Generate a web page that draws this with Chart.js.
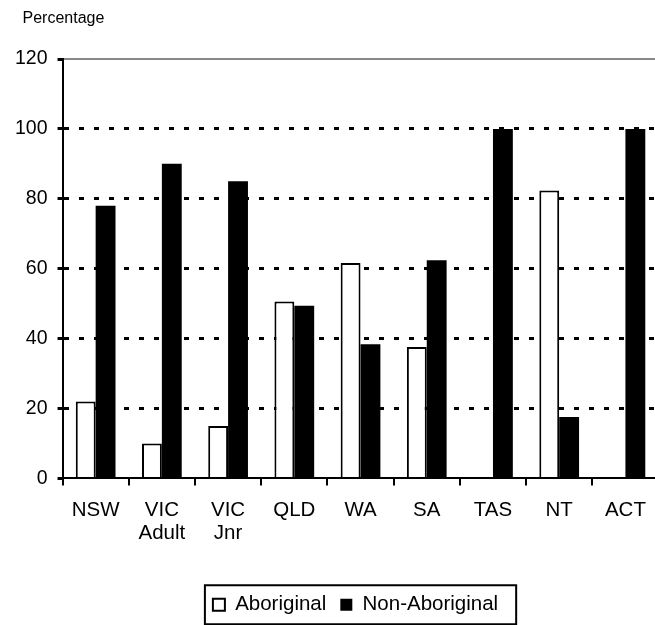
<!DOCTYPE html>
<html>
<head>
<meta charset="utf-8">
<script src="https://cdn.jsdelivr.net/npm/chart.js@4"></script>
<style>
    html, body { margin: 0; padding: 0; background: #fff; overflow: hidden; }
    #wrap { width: 655px; height: 625px; overflow: hidden; }
</style>
</head>
<body>
<div id="wrap"><canvas id="chart" width="660" height="625"></canvas></div>
<script>
// 各州分类
const states = [['NSW'], ['VIC', 'Adult'], ['VIC', 'Jnr'], ['QLD'], ['WA'], ['SA'], ['TAS'], ['NT'], ['ACT']];
// 百分比数据
const aboriginal = [22, 10, 15, 50.6, 61.6, 37.6, 0, 82.4, 0];
const nonAboriginal = [78, 90, 85, 49.4, 38.4, 62.4, 100, 17.6, 100];
// Y轴刻度
const yTicks = [0, 20, 40, 60, 80, 100, 120];

const FONT = 'Arial, "Liberation Sans", sans-serif';
// 图例外框左右留白
const BOX_PAD_L = 8;
const BOX_PAD_R = 18;

// 左上角的单位文字
const unitLabel = {
    id: 'unitLabel',
    afterDraw(chart) {
        const { ctx, chartArea } = chart;
        ctx.save();
        ctx.font = '16px ' + FONT;
        ctx.fillStyle = '#000';
        ctx.textBaseline = 'middle';
        ctx.fillText('Percentage', chartArea.left - 40, chartArea.top - 40);
        ctx.restore();
    }
};

// 图例外框居中到绘图区下方
const legendShift = {
    id: 'legendShift',
    afterLayout(chart) {
        const lg = chart.legend;
        const area = chart.chartArea;
        const shift = (area.left + area.right) / 2 - (lg.left + lg.right) / 2 - (BOX_PAD_R - BOX_PAD_L) / 2;
        lg.left += shift;
        lg.right += shift;
    }
};

// 图例外框
const legendBox = {
    id: 'legendBox',
    afterDraw(chart) {
        const boxes = chart.legend.legendHitBoxes;
        if (!boxes || !boxes.length) return;
        const first = boxes[0];
        const last = boxes[boxes.length - 1];
        const cy = first.top + first.height / 2;
        const ctx = chart.ctx;
        ctx.save();
        ctx.strokeStyle = '#000';
        ctx.lineWidth = 2;
        ctx.strokeRect(first.left - BOX_PAD_L, cy - 19.5, last.left + last.width - first.left + BOX_PAD_L + BOX_PAD_R, 39);
        ctx.restore();
    }
};

new Chart(document.getElementById('chart'), {
    type: 'bar',
    data: {
        labels: states,
        datasets: [{
            label: 'Aboriginal',
            data: aboriginal,
            backgroundColor: '#fff',
            borderColor: '#000',
            borderWidth: 2,
            borderSkipped: 'bottom'
        }, {
            label: 'Non-Aboriginal',
            data: nonAboriginal,
            backgroundColor: '#000',
            borderColor: '#000',
            borderWidth: 0
        }]
    },
    options: {
        responsive: false,
        animation: false,
        categoryPercentage: 0.6,
        barPercentage: 1,
        layout: { padding: { top: 51, left: 5, right: 0, bottom: 0 } },
        plugins: {
            tooltip: { enabled: false },
            legend: {
                position: 'bottom',
                labels: {
                    font: { family: FONT, size: 20.5 },
                    color: '#000',
                    boxWidth: 12,
                    boxHeight: 12,
                    padding: 14
                }
            }
        },
        scales: {
            x: {
                grid: {
                    offset: true,
                    drawOnChartArea: false,
                    tickLength: 7,
                    color: '#000',
                    lineWidth: 2
                },
                border: { color: '#000', width: 2 },
                ticks: {
                    font: { family: FONT, size: 20.5, lineHeight: 1.1 },
                    color: '#000',
                    padding: 14,
                    maxRotation: 0,
                    autoSkip: false
                },
                afterFit(axis) { axis.height += 22; }
            },
            x2: {
                position: 'top',
                labels: states,
                grid: { display: false },
                ticks: { display: false },
                border: { color: '#888', width: 2 }
            },
            y: {
                min: 0,
                max: 120,
                afterBuildTicks(axis) { axis.ticks = yTicks.map(v => ({ value: v })); },
                grid: {
                    color: ctx => (ctx.tick && (ctx.tick.value === 0 || ctx.tick.value === 120)) ? 'rgba(0,0,0,0)' : '#000',
                    tickColor: '#000',
                    lineWidth: 3,
                    tickLength: 5
                },
                border: { color: '#000', width: 2, dash: [5, 10] },
                ticks: {
                    font: { family: FONT, size: 19.5 },
                    color: '#000',
                    padding: 10
                }
            }
        }
    },
    plugins: [legendShift, unitLabel, legendBox]
});
</script>
</body>
</html>
